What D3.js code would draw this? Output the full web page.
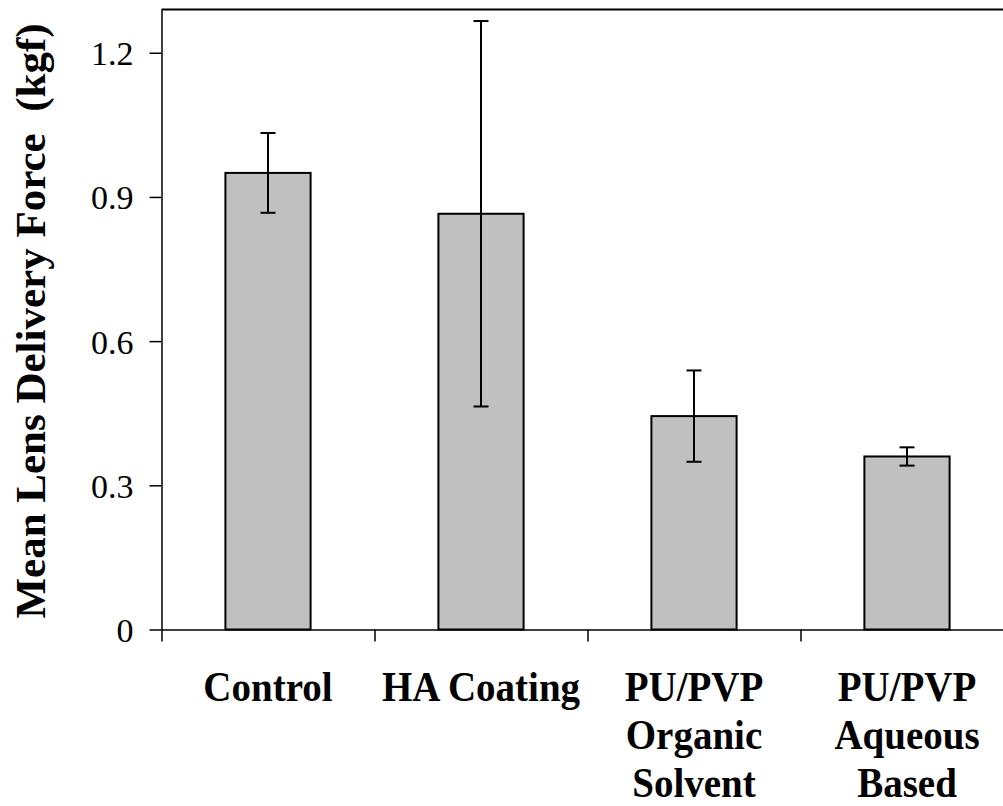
<!DOCTYPE html>
<html>
<head>
<meta charset="utf-8">
<script src="https://cdn.jsdelivr.net/npm/d3@7"></script>
<style>
  html, body { margin: 0; padding: 0; background: #fff; }
</style>
</head>
<body>
<div id="chart"></div>
<script>
// data
const categories = ["Control", "HA Coating", "PU/PVP Organic Solvent", "PU/PVP Aqueous Based"];
const labelLines = [["Control"], ["HA Coating"], ["PU/PVP", "Organic", "Solvent"], ["PU/PVP", "Aqueous", "Based"]];
const meanForce = [0.950, 0.865, 0.444, 0.360];
const errForce  = [0.083, 0.401, 0.095, 0.019];
const yTicks = [0, 0.3, 0.6, 0.9, 1.2];
const yTop = 1.29;

const FONT = "'Liberation Serif', 'Times New Roman', Times, 'DejaVu Serif', serif";
const W = 1003, H = 806;
const plot = {left: 161.5, right: 1013.5, top: 9.5, bottom: 629.5};

const svg = d3.select("#chart").append("svg")
    .attr("width", W)
    .attr("height", H)
    .attr("font-family", FONT);

const x = d3.scaleBand()
    .domain(categories)
    .range([plot.left, plot.right])
    .paddingInner(0.6)
    .paddingOuter(0.3);

const y = d3.scaleLinear()
    .domain([0, yTop])
    .range([plot.bottom, plot.top]);

// boundaries between categories, for the x tick marks
const idx = d3.scaleLinear().domain([0, categories.length]).range([plot.left, plot.right]);

// top edge of the plot area
svg.append("line")
    .attr("x1", plot.left).attr("x2", plot.right)
    .attr("y1", y(yTop)).attr("y2", y(yTop))
    .attr("stroke", "#000").attr("stroke-width", 2);

// bars
svg.selectAll("rect.bar")
    .data(categories)
    .enter().append("rect")
    .attr("class", "bar")
    .attr("x", d => x(d))
    .attr("width", x.bandwidth())
    .attr("y", (d, i) => y(meanForce[i]))
    .attr("height", (d, i) => y(0) - y(meanForce[i]))
    .attr("fill", "#c0c0c0")
    .attr("stroke", "#000")
    .attr("stroke-width", 2);

// error bars
const cap = 7.5;
const eb = svg.selectAll("g.err")
    .data(categories)
    .enter().append("g")
    .attr("class", "err")
    .attr("stroke", "#000")
    .attr("stroke-width", 2);
eb.append("line")
    .attr("x1", d => x(d) + x.bandwidth() / 2)
    .attr("x2", d => x(d) + x.bandwidth() / 2)
    .attr("y1", (d, i) => y(meanForce[i] - errForce[i]))
    .attr("y2", (d, i) => y(meanForce[i] + errForce[i]));
eb.append("line")
    .attr("x1", d => x(d) + x.bandwidth() / 2 - cap)
    .attr("x2", d => x(d) + x.bandwidth() / 2 + cap)
    .attr("y1", (d, i) => y(meanForce[i] + errForce[i]))
    .attr("y2", (d, i) => y(meanForce[i] + errForce[i]));
eb.append("line")
    .attr("x1", d => x(d) + x.bandwidth() / 2 - cap)
    .attr("x2", d => x(d) + x.bandwidth() / 2 + cap)
    .attr("y1", (d, i) => y(meanForce[i] - errForce[i]))
    .attr("y2", (d, i) => y(meanForce[i] - errForce[i]));

// y axis
const yAxis = svg.append("g")
    .attr("transform", "translate(" + plot.left + ",0)")
    .call(d3.axisLeft(y)
        .tickValues(yTicks)
        .tickSize(12)
        .tickSizeOuter(0)
        .tickPadding(16)
        .tickFormat(d => d === 0 ? "0" : d3.format(".1f")(d)));
yAxis.attr("font-family", FONT);
yAxis.select(".domain").attr("stroke-width", 1.5);
yAxis.selectAll(".tick line").attr("stroke-width", 1.5);
yAxis.selectAll(".tick text")
    .attr("font-family", FONT)
    .attr("font-size", 34)
    .attr("dy", "0.35em");

// x axis
const xAxis = svg.append("g")
    .attr("transform", "translate(0," + plot.bottom + ")")
    .call(d3.axisBottom(idx)
        .tickValues(d3.range(categories.length + 1))
        .tickSize(12)
        .tickSizeOuter(0)
        .tickFormat(""));
xAxis.select(".domain").attr("stroke-width", 1.5);
xAxis.selectAll(".tick line").attr("stroke-width", 1.5);

// category labels
const sy = 1.1;
const lab = svg.selectAll("g.xlab")
    .data(categories)
    .enter().append("g")
    .attr("class", "xlab")
    .attr("transform", d => "translate(" + (x(d) + x.bandwidth() / 2) + ",701) scale(1," + sy + ")");
lab.each(function (d, i) {
    const g = d3.select(this);
    labelLines[i].forEach((t, j) => {
        g.append("text")
            .attr("x", 0)
            .attr("y", j * 48 / sy)
            .attr("text-anchor", "middle")
            .attr("font-family", FONT)
            .attr("font-size", 39)
            .attr("font-weight", "bold")
            .text(t);
    });
});

// y title
svg.append("text")
    .attr("transform", "translate(45,321) rotate(-90)")
    .attr("text-anchor", "middle")
    .attr("font-family", FONT)
    .attr("font-size", 43)
    .attr("font-weight", "bold")
    .attr("xml:space", "preserve")
    .style("white-space", "pre")
    .text("Mean Lens Delivery Force  (kgf)");
</script>
</body>
</html>
